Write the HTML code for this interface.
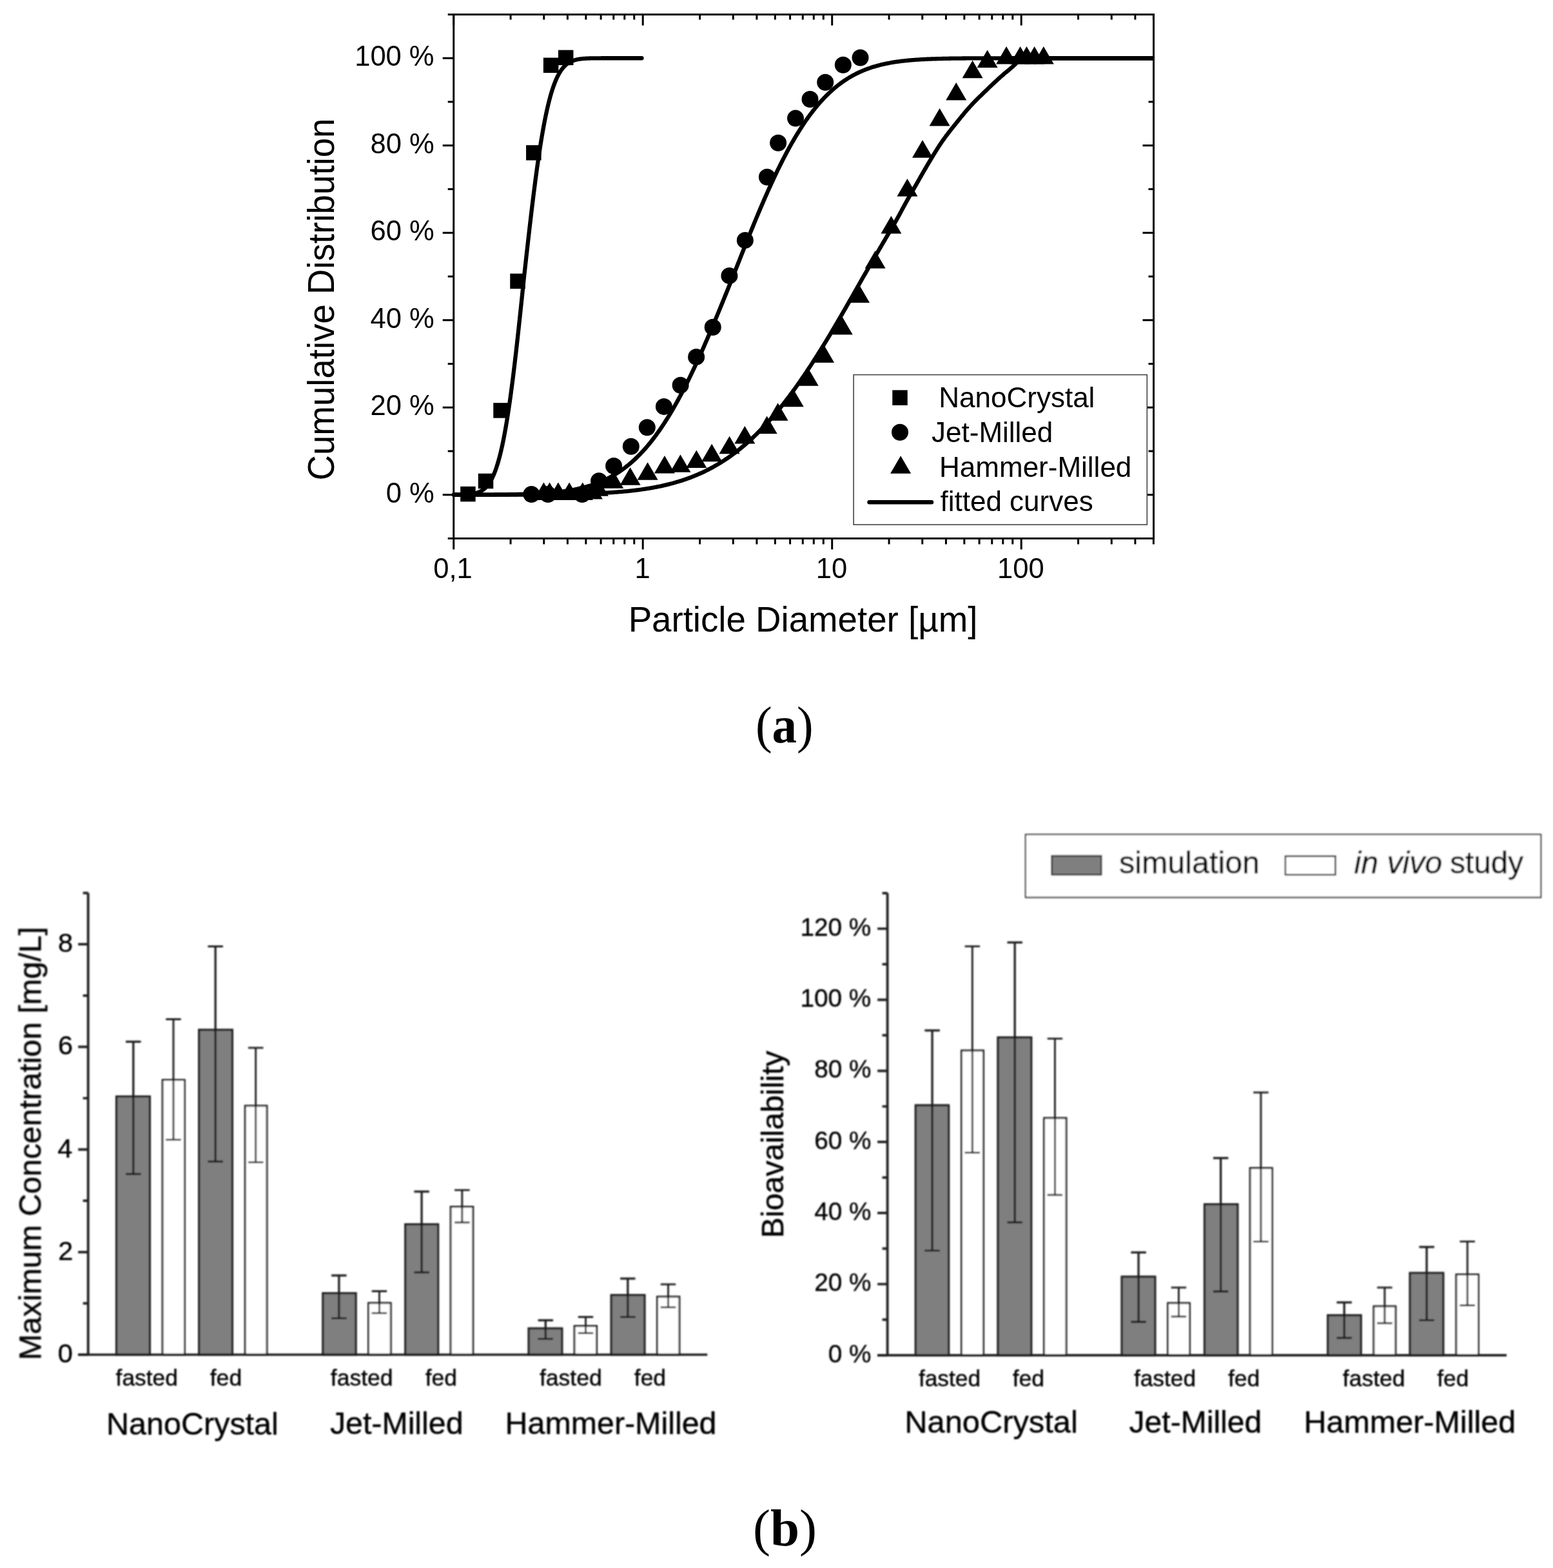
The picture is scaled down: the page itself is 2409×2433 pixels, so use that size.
<!DOCTYPE html>
<html><head><meta charset="utf-8"><title>Figure</title><style>html,body{margin:0;padding:0;background:#fff;}svg{display:block;}#pb text{stroke:#000;stroke-width:0.45px;}</style></head><body>
<svg width="2409" height="2433" viewBox="0 0 2409 2433"><rect width="2409" height="2433" fill="#fff"/><rect x="703.7" y="22.5" width="1085.8" height="813" fill="none" stroke="#000" stroke-width="3"/>
<path d="M694.7 835.5H703.7M1781.5 835.5H1789.5M686.7 767.75H703.7M1772.5 767.75H1789.5M694.7 700H703.7M1781.5 700H1789.5M686.7 632.25H703.7M1772.5 632.25H1789.5M694.7 564.5H703.7M1781.5 564.5H1789.5M686.7 496.75H703.7M1772.5 496.75H1789.5M694.7 429H703.7M1781.5 429H1789.5M686.7 361.25H703.7M1772.5 361.25H1789.5M694.7 293.5H703.7M1781.5 293.5H1789.5M686.7 225.75H703.7M1772.5 225.75H1789.5M694.7 158H703.7M1781.5 158H1789.5M686.7 90.25H703.7M1772.5 90.25H1789.5M694.7 22.5H703.7M1781.5 22.5H1789.5M703.7 835.5V852.5M703.7 22.5V39.5M792.05 835.5V844.5M792.05 22.5V30.5M843.74 835.5V844.5M843.74 22.5V30.5M880.4 835.5V844.5M880.4 22.5V30.5M908.85 835.5V844.5M908.85 22.5V30.5M932.09 835.5V844.5M932.09 22.5V30.5M951.74 835.5V844.5M951.74 22.5V30.5M968.76 835.5V844.5M968.76 22.5V30.5M983.77 835.5V844.5M983.77 22.5V30.5M997.2 835.5V852.5M997.2 22.5V39.5M1085.55 835.5V844.5M1085.55 22.5V30.5M1137.24 835.5V844.5M1137.24 22.5V30.5M1173.9 835.5V844.5M1173.9 22.5V30.5M1202.35 835.5V844.5M1202.35 22.5V30.5M1225.59 835.5V844.5M1225.59 22.5V30.5M1245.24 835.5V844.5M1245.24 22.5V30.5M1262.26 835.5V844.5M1262.26 22.5V30.5M1277.27 835.5V844.5M1277.27 22.5V30.5M1290.7 835.5V852.5M1290.7 22.5V39.5M1379.05 835.5V844.5M1379.05 22.5V30.5M1430.74 835.5V844.5M1430.74 22.5V30.5M1467.4 835.5V844.5M1467.4 22.5V30.5M1495.85 835.5V844.5M1495.85 22.5V30.5M1519.09 835.5V844.5M1519.09 22.5V30.5M1538.74 835.5V844.5M1538.74 22.5V30.5M1555.76 835.5V844.5M1555.76 22.5V30.5M1570.77 835.5V844.5M1570.77 22.5V30.5M1584.2 835.5V852.5M1584.2 22.5V39.5M1672.55 835.5V844.5M1672.55 22.5V30.5M1724.24 835.5V844.5M1724.24 22.5V30.5M1760.9 835.5V844.5M1760.9 22.5V30.5M1789.35 835.5V844.5M1789.35 22.5V30.5M1789.35 835.5V844.5M1789.35 22.5V30.5" stroke="#000" stroke-width="3" fill="none"/>
<text x="598.7" y="779.55" style="font-family:'Liberation Sans',Arial,sans-serif;font-size:43.5px" fill="#000">0 %</text>
<text x="574.45" y="644.05" style="font-family:'Liberation Sans',Arial,sans-serif;font-size:43.5px" fill="#000">20 %</text>
<text x="574.45" y="508.55" style="font-family:'Liberation Sans',Arial,sans-serif;font-size:43.5px" fill="#000">40 %</text>
<text x="574.45" y="373.05" style="font-family:'Liberation Sans',Arial,sans-serif;font-size:43.5px" fill="#000">60 %</text>
<text x="574.45" y="237.55" style="font-family:'Liberation Sans',Arial,sans-serif;font-size:43.5px" fill="#000">80 %</text>
<text x="550.2" y="102.05" style="font-family:'Liberation Sans',Arial,sans-serif;font-size:43.5px" fill="#000">100 %</text>
<text x="672.25" y="896.5" style="font-family:'Liberation Sans',Arial,sans-serif;font-size:43.5px" fill="#000">0,1</text>
<text x="984.58" y="896.5" style="font-family:'Liberation Sans',Arial,sans-serif;font-size:43.5px" fill="#000">1</text>
<text x="1265.7" y="896.5" style="font-family:'Liberation Sans',Arial,sans-serif;font-size:43.5px" fill="#000">10</text>
<text x="1547.08" y="896.5" style="font-family:'Liberation Sans',Arial,sans-serif;font-size:43.5px" fill="#000">100</text>
<text x="974.63" y="980" style="font-family:'Liberation Sans',Arial,sans-serif;font-size:55px" fill="#000" textLength="541.75" lengthAdjust="spacingAndGlyphs">Particle Diameter [µm]</text>
<text transform="translate(517.6 745.53) rotate(-90)" x="0" y="0" style="font-family:'Liberation Sans',Arial,sans-serif;font-size:58px" fill="#000" textLength="562.06" lengthAdjust="spacingAndGlyphs">Cumulative Distribution</text>
<path d="M703.7 767.72 L704.43 767.71 L705.16 767.71 L705.89 767.71 L706.63 767.7 L707.36 767.7 L708.09 767.69 L708.82 767.68 L709.55 767.68 L710.28 767.67 L711.01 767.66 L711.74 767.65 L712.48 767.64 L713.21 767.63 L713.94 767.61 L714.67 767.6 L715.4 767.58 L716.13 767.57 L716.86 767.55 L717.6 767.53 L718.33 767.51 L719.06 767.48 L719.79 767.45 L720.52 767.43 L721.25 767.39 L721.98 767.36 L722.71 767.32 L723.45 767.28 L724.18 767.24 L724.91 767.19 L725.64 767.14 L726.37 767.08 L727.1 767.02 L727.83 766.95 L728.57 766.88 L729.3 766.8 L730.03 766.72 L730.76 766.63 L731.49 766.53 L732.22 766.42 L732.95 766.31 L733.68 766.19 L734.42 766.05 L735.15 765.91 L735.88 765.76 L736.61 765.59 L737.34 765.42 L738.07 765.23 L738.8 765.02 L739.54 764.8 L740.27 764.57 L741 764.32 L741.73 764.05 L742.46 763.77 L743.19 763.46 L743.92 763.13 L744.65 762.79 L745.39 762.42 L746.12 762.02 L746.85 761.6 L747.58 761.16 L748.31 760.68 L749.04 760.18 L749.77 759.64 L750.51 759.07 L751.24 758.47 L751.97 757.83 L752.7 757.16 L753.43 756.44 L754.16 755.69 L754.89 754.89 L755.62 754.05 L756.36 753.16 L757.09 752.22 L757.82 751.24 L758.55 750.2 L759.28 749.1 L760.01 747.96 L760.74 746.75 L761.47 745.48 L762.21 744.15 L762.94 742.76 L763.67 741.29 L764.4 739.76 L765.13 738.16 L765.86 736.49 L766.59 734.74 L767.33 732.91 L768.06 731.01 L768.79 729.02 L769.52 726.95 L770.25 724.79 L770.98 722.54 L771.71 720.21 L772.44 717.78 L773.18 715.26 L773.91 712.65 L774.64 709.93 L775.37 707.12 L776.1 704.21 L776.83 701.2 L777.56 698.08 L778.3 694.86 L779.03 691.53 L779.76 688.09 L780.49 684.55 L781.22 680.9 L781.95 677.14 L782.68 673.26 L783.41 669.28 L784.15 665.18 L784.88 660.98 L785.61 656.66 L786.34 652.23 L787.07 647.69 L787.8 643.03 L788.53 638.27 L789.27 633.39 L790 628.41 L790.73 623.32 L791.46 618.12 L792.19 612.82 L792.92 607.41 L793.65 601.9 L794.38 596.29 L795.12 590.58 L795.85 584.78 L796.58 578.88 L797.31 572.89 L798.04 566.81 L798.77 560.65 L799.5 554.4 L800.24 548.08 L800.97 541.68 L801.7 535.21 L802.43 528.67 L803.16 522.06 L803.89 515.39 L804.62 508.67 L805.35 501.89 L806.09 495.07 L806.82 488.2 L807.55 481.29 L808.28 474.35 L809.01 467.37 L809.74 460.37 L810.47 453.35 L811.21 446.31 L811.94 439.26 L812.67 432.21 L813.4 425.4 L814.13 418.82 L814.86 412.24 L815.59 405.67 L816.32 399.11 L817.06 392.57 L817.79 386.05 L818.52 379.56 L819.25 373.1 L819.98 366.67 L820.71 360.27 L821.44 353.92 L822.18 347.61 L822.91 341.34 L823.64 335.13 L824.37 328.97 L825.1 322.87 L825.83 316.82 L826.56 310.84 L827.29 304.93 L828.03 299.08 L828.76 293.3 L829.49 287.6 L830.22 281.97 L830.95 276.42 L831.68 270.96 L832.41 265.57 L833.15 260.27 L833.88 255.05 L834.61 249.93 L835.34 244.89 L836.07 239.94 L836.8 235.08 L837.53 230.32 L838.26 225.65 L839 221.08 L839.73 216.6 L840.46 212.22 L841.19 207.93 L841.92 203.74 L842.65 199.65 L843.38 195.66 L844.12 191.76 L844.85 187.96 L845.58 184.26 L846.31 180.65 L847.04 177.14 L847.77 173.73 L848.5 170.41 L849.23 167.19 L849.97 164.06 L850.7 161.02 L851.43 158.07 L852.16 155.22 L852.89 152.45 L853.62 149.77 L854.35 147.18 L855.08 144.68 L855.82 142.25 L856.55 139.92 L857.28 137.66 L858.01 135.48 L858.74 133.38 L859.47 131.36 L860.2 129.41 L860.94 127.54 L861.67 125.74 L862.4 124 L863.13 122.34 L863.86 120.74 L864.59 119.21 L865.32 117.74 L866.05 116.33 L866.79 114.98 L867.52 113.68 L868.25 112.45 L868.98 111.27 L869.71 110.14 L870.44 109.06 L871.17 108.03 L871.91 107.05 L872.64 106.11 L873.37 105.22 L874.1 104.37 L874.83 103.56 L875.56 102.79 L876.29 102.06 L877.02 101.37 L877.76 100.71 L878.49 100.09 L879.22 99.5 L879.95 98.93 L880.68 98.4 L881.41 97.9 L882.14 97.42 L882.88 96.97 L883.61 96.55 L884.34 96.15 L885.07 95.77 L885.8 95.41 L886.53 95.07 L887.26 94.76 L887.99 94.46 L888.73 94.18 L889.46 93.91 L890.19 93.67 L890.92 93.43 L891.65 93.21 L892.38 93.01 L893.11 92.82 L893.85 92.64 L894.58 92.47 L895.31 92.31 L896.04 92.16 L896.77 92.02 L897.5 91.89 L898.23 91.77 L898.96 91.66 L899.7 91.56 L900.43 91.46 L901.16 91.37 L901.89 91.28 L902.62 91.2 L903.35 91.13 L904.08 91.06 L904.82 91 L905.55 90.94 L906.28 90.89 L907.01 90.83 L907.74 90.79 L908.47 90.74 L909.2 90.7 L909.93 90.67 L910.67 90.63 L911.4 90.6 L912.13 90.57 L912.86 90.55 L913.59 90.52 L914.32 90.5 L915.05 90.48 L915.79 90.46 L916.52 90.44 L917.25 90.42 L917.98 90.41 L918.71 90.39 L919.44 90.38 L920.17 90.37 L920.9 90.36 L921.64 90.35 L922.37 90.34 L923.1 90.33 L923.83 90.32 L924.56 90.32 L925.29 90.31 L926.02 90.31 L926.76 90.3 L927.49 90.3 L928.22 90.29 L928.95 90.29 L929.68 90.28 L930.41 90.28 L931.14 90.28 L931.87 90.28 L932.61 90.27 L933.34 90.27 L934.07 90.27 L934.8 90.27 L935.53 90.26 L936.26 90.26 L936.99 90.26 L937.73 90.26 L938.46 90.26 L939.19 90.26 L939.92 90.26 L940.65 90.26 L941.38 90.26 L942.11 90.26 L942.84 90.26 L943.58 90.25 L944.31 90.25 L945.04 90.25 L945.77 90.25 L946.5 90.25 L947.23 90.25 L947.96 90.25 L948.69 90.25 L949.43 90.25 L950.16 90.25 L950.89 90.25 L951.62 90.25 L952.35 90.25 L953.08 90.25 L953.81 90.25 L954.55 90.25 L955.28 90.25 L956.01 90.25 L956.74 90.25 L957.47 90.25 L958.2 90.25 L958.93 90.25 L959.66 90.25 L960.4 90.25 L961.13 90.25 L961.86 90.25 L962.59 90.25 L963.32 90.25 L964.05 90.25 L964.78 90.25 L965.52 90.25 L966.25 90.25 L966.98 90.25 L967.71 90.25 L968.44 90.25 L969.17 90.25 L969.9 90.25 L970.63 90.25 L971.37 90.25 L972.1 90.25 L972.83 90.25 L973.56 90.25 L974.29 90.25 L975.02 90.25 L975.75 90.25 L976.49 90.25 L977.22 90.25 L977.95 90.25 L978.68 90.25 L979.41 90.25 L980.14 90.25 L980.87 90.25 L981.6 90.25 L982.34 90.25 L983.07 90.25 L983.8 90.25 L984.53 90.25 L985.26 90.25 L985.99 90.25 L986.72 90.25 L987.46 90.25 L988.19 90.25 L988.92 90.25 L989.65 90.25 L990.38 90.25 L991.11 90.25 L991.84 90.25 L992.57 90.25 L993.31 90.25 L994.04 90.25 L994.77 90.25 L995.5 90.25" stroke="#000" stroke-width="6.3" fill="none" stroke-linecap="round" stroke-linejoin="round"/>
<path d="M703.7 767.73 L705.25 767.72 L706.81 767.72 L708.36 767.72 L709.91 767.72 L711.47 767.72 L713.02 767.72 L714.57 767.71 L716.13 767.71 L717.68 767.71 L719.23 767.71 L720.79 767.7 L722.34 767.7 L723.89 767.7 L725.45 767.7 L727 767.69 L728.55 767.69 L730.11 767.69 L731.66 767.68 L733.21 767.68 L734.77 767.67 L736.32 767.67 L737.87 767.67 L739.43 767.66 L740.98 767.66 L742.53 767.65 L744.09 767.64 L745.64 767.64 L747.19 767.63 L748.75 767.63 L750.3 767.62 L751.85 767.61 L753.41 767.6 L754.96 767.6 L756.51 767.59 L758.07 767.58 L759.62 767.57 L761.17 767.56 L762.73 767.55 L764.28 767.54 L765.83 767.53 L767.39 767.51 L768.94 767.5 L770.49 767.49 L772.05 767.47 L773.6 767.46 L775.15 767.44 L776.71 767.43 L778.26 767.41 L779.81 767.39 L781.37 767.38 L782.92 767.36 L784.47 767.34 L786.03 767.32 L787.58 767.29 L789.13 767.27 L790.69 767.25 L792.24 767.22 L793.79 767.19 L795.35 767.17 L796.9 767.14 L798.46 767.11 L800.01 767.08 L801.56 767.04 L803.12 767.01 L804.67 766.97 L806.22 766.93 L807.78 766.89 L809.33 766.85 L810.88 766.81 L812.44 766.77 L813.99 766.72 L815.54 766.67 L817.1 766.62 L818.65 766.57 L820.2 766.51 L821.76 766.45 L823.31 766.39 L824.86 766.33 L826.42 766.27 L827.97 766.2 L829.52 766.13 L831.08 766.05 L832.63 765.98 L834.18 765.9 L835.74 765.82 L837.29 765.73 L838.84 765.64 L840.4 765.55 L841.95 765.45 L843.5 765.35 L845.06 765.24 L846.61 765.14 L848.16 765.02 L849.72 764.91 L851.27 764.78 L852.82 764.66 L854.38 764.53 L855.93 764.39 L857.48 764.25 L859.04 764.1 L860.59 763.95 L862.14 763.79 L863.7 763.63 L865.25 763.46 L866.8 763.29 L868.36 763.1 L869.91 762.92 L871.46 762.72 L873.02 762.52 L874.57 762.31 L876.12 762.09 L877.68 761.87 L879.23 761.64 L880.78 761.4 L882.34 761.15 L883.89 760.9 L885.44 760.63 L887 760.36 L888.55 760.08 L890.1 759.79 L891.66 759.49 L893.21 759.18 L894.76 758.85 L896.32 758.52 L897.87 758.18 L899.42 757.83 L900.98 757.47 L902.53 757.09 L904.08 756.7 L905.64 756.3 L907.19 755.89 L908.74 755.47 L910.3 755.03 L911.85 754.58 L913.4 754.12 L914.96 753.64 L916.51 753.15 L918.06 752.65 L919.62 752.13 L921.17 751.59 L922.72 751.04 L924.28 750.48 L925.83 749.9 L927.38 749.3 L928.94 748.68 L930.49 748.05 L932.04 747.4 L933.6 746.74 L935.15 746.05 L936.7 745.35 L938.26 744.63 L939.81 743.89 L941.36 743.13 L942.92 742.35 L944.47 741.55 L946.02 740.73 L947.58 739.89 L949.13 739.03 L950.68 738.15 L952.24 737.24 L953.79 736.31 L955.34 735.37 L956.9 734.39 L958.45 733.4 L960 732.38 L961.56 731.34 L963.11 730.27 L964.66 729.18 L966.22 728.06 L967.77 726.92 L969.32 725.75 L970.88 724.56 L972.43 723.34 L973.98 722.1 L975.54 720.82 L977.09 719.52 L978.65 718.2 L980.2 716.84 L981.75 715.46 L983.31 714.05 L984.86 712.61 L986.41 711.14 L987.97 709.64 L989.52 708.12 L991.07 706.56 L992.63 704.97 L994.18 703.35 L995.73 701.71 L997.29 700.03 L998.84 698.32 L1000.39 696.58 L1001.95 694.81 L1003.5 693 L1005.05 691.17 L1006.61 689.3 L1008.16 687.4 L1009.71 685.47 L1011.27 683.5 L1012.82 681.51 L1014.37 679.48 L1015.93 677.42 L1017.48 675.32 L1019.03 673.19 L1020.59 671.03 L1022.14 668.84 L1023.69 666.61 L1025.25 664.35 L1026.8 662.06 L1028.35 659.73 L1029.91 657.37 L1031.46 654.98 L1033.01 652.55 L1034.57 650.09 L1036.12 647.6 L1037.67 645.07 L1039.23 642.51 L1040.78 639.92 L1042.33 637.29 L1043.89 634.63 L1045.44 631.94 L1046.99 629.22 L1048.55 626.46 L1050.1 623.68 L1051.65 620.86 L1053.21 618.01 L1054.76 615.13 L1056.31 612.21 L1057.87 609.27 L1059.42 606.29 L1060.97 603.29 L1062.53 600.25 L1064.08 597.19 L1065.63 594.09 L1067.19 590.97 L1068.74 587.82 L1070.29 584.64 L1071.85 581.43 L1073.4 578.2 L1074.95 574.93 L1076.51 571.65 L1078.06 568.33 L1079.61 564.99 L1081.17 561.62 L1082.72 558.23 L1084.27 554.82 L1085.83 551.38 L1087.38 547.92 L1088.93 544.44 L1090.49 540.93 L1092.04 537.4 L1093.59 533.85 L1095.15 530.29 L1096.7 526.7 L1098.25 523.09 L1099.81 519.47 L1101.36 515.82 L1102.91 512.16 L1104.47 508.49 L1106.02 504.8 L1107.57 501.09 L1109.13 497.37 L1110.68 493.63 L1112.23 489.89 L1113.79 486.13 L1115.34 482.36 L1116.89 478.57 L1118.45 474.78 L1120 470.98 L1121.55 467.17 L1123.11 463.36 L1124.66 459.53 L1126.21 455.7 L1127.77 451.87 L1129.32 448.03 L1130.87 444.18 L1132.43 440.33 L1133.98 436.48 L1135.53 432.63 L1137.09 428.78 L1138.64 424.81 L1140.19 420.86 L1141.75 416.9 L1143.3 412.94 L1144.85 408.99 L1146.41 405.04 L1147.96 401.1 L1149.51 397.16 L1151.07 393.23 L1152.62 389.31 L1154.17 385.4 L1155.73 381.49 L1157.28 377.6 L1158.84 373.72 L1160.39 369.84 L1161.94 365.98 L1163.5 362.14 L1165.05 358.31 L1166.6 354.49 L1168.16 350.69 L1169.71 346.9 L1171.26 343.14 L1172.82 339.38 L1174.37 335.65 L1175.92 331.94 L1177.48 328.25 L1179.03 324.58 L1180.58 320.93 L1182.14 317.3 L1183.69 313.69 L1185.24 310.11 L1186.8 306.55 L1188.35 303.01 L1189.9 299.5 L1191.46 296.02 L1193.01 292.56 L1194.56 289.13 L1196.12 285.73 L1197.67 282.35 L1199.22 279 L1200.78 275.68 L1202.33 272.39 L1203.88 269.13 L1205.44 265.9 L1206.99 262.7 L1208.54 259.53 L1210.1 256.39 L1211.65 253.28 L1213.2 250.21 L1214.76 247.17 L1216.31 244.16 L1217.86 241.18 L1219.42 238.24 L1220.97 235.32 L1222.52 232.45 L1224.08 229.6 L1225.63 226.79 L1227.18 224.02 L1228.74 221.28 L1230.29 218.57 L1231.84 215.9 L1233.4 213.26 L1234.95 210.66 L1236.5 208.09 L1238.06 205.56 L1239.61 203.07 L1241.16 200.6 L1242.72 198.18 L1244.27 195.79 L1245.82 193.43 L1247.38 191.11 L1248.93 188.82 L1250.48 186.57 L1252.04 184.36 L1253.59 182.18 L1255.14 180.03 L1256.7 177.92 L1258.25 175.84 L1259.8 173.8 L1261.36 171.8 L1262.91 169.82 L1264.46 167.88 L1266.02 165.98 L1267.57 164.11 L1269.12 162.27 L1270.68 160.46 L1272.23 158.69 L1273.78 156.95 L1275.34 155.25 L1276.89 153.57 L1278.44 151.93 L1280 150.32 L1281.55 148.74 L1283.1 147.19 L1284.66 145.68 L1286.21 144.19 L1287.76 142.74 L1289.32 141.31 L1290.87 139.91 L1292.42 138.55 L1293.98 137.21 L1295.53 135.9 L1297.08 134.62 L1298.64 133.37 L1300.19 132.14 L1301.74 130.95 L1303.3 129.78 L1304.85 128.63 L1306.4 127.52 L1307.96 126.42 L1309.51 125.36 L1311.06 124.32 L1312.62 123.3 L1314.17 122.31 L1315.72 121.34 L1317.28 120.4 L1318.83 119.48 L1320.38 118.58 L1321.94 117.7 L1323.49 116.85 L1325.04 116.02 L1326.6 115.21 L1328.15 114.42 L1329.7 113.65 L1331.26 112.9 L1332.81 112.17 L1334.36 111.46 L1335.92 110.77 L1337.47 110.1 L1339.03 109.44 L1340.58 108.81 L1342.13 108.19 L1343.69 107.59 L1345.24 107.01 L1346.79 106.44 L1348.35 105.89 L1349.9 105.36 L1351.45 104.84 L1353.01 104.33 L1354.56 103.84 L1356.11 103.37 L1357.67 102.91 L1359.22 102.46 L1360.77 102.03 L1362.33 101.61 L1363.88 101.2 L1365.43 100.81 L1366.99 100.42 L1368.54 100.05 L1370.09 99.69 L1371.65 99.35 L1373.2 99.01 L1374.75 98.68 L1376.31 98.37 L1377.86 98.07 L1379.41 97.77 L1380.97 97.49 L1382.52 97.21 L1384.07 96.94 L1385.63 96.69 L1387.18 96.44 L1388.73 96.2 L1390.29 95.97 L1391.84 95.74 L1393.39 95.52 L1394.95 95.32 L1396.5 95.11 L1398.05 94.92 L1399.61 94.73 L1401.16 94.55 L1402.71 94.38 L1404.27 94.21 L1405.82 94.05 L1407.37 93.89 L1408.93 93.74 L1410.48 93.6 L1412.03 93.46 L1413.59 93.32 L1415.14 93.19 L1416.69 93.07 L1418.25 92.95 L1419.8 92.84 L1421.35 92.72 L1422.91 92.62 L1424.46 92.52 L1426.01 92.42 L1427.57 92.32 L1429.12 92.23 L1430.67 92.15 L1432.23 92.06 L1433.78 91.98 L1435.33 91.91 L1436.89 91.83 L1438.44 91.76 L1439.99 91.69 L1441.55 91.63 L1443.1 91.56 L1444.65 91.5 L1446.21 91.45 L1447.76 91.39 L1449.31 91.34 L1450.87 91.29 L1452.42 91.24 L1453.97 91.19 L1455.53 91.15 L1457.08 91.11 L1458.63 91.07 L1460.19 91.03 L1461.74 90.99 L1463.29 90.96 L1464.85 90.92 L1466.4 90.89 L1467.95 90.86 L1469.51 90.83 L1471.06 90.8 L1472.61 90.77 L1474.17 90.75 L1475.72 90.72 L1477.27 90.7 L1478.83 90.68 L1480.38 90.66 L1481.93 90.64 L1483.49 90.62 L1485.04 90.6 L1486.59 90.58 L1488.15 90.56 L1489.7 90.55 L1491.25 90.53 L1492.81 90.52 L1494.36 90.5 L1495.91 90.49 L1497.47 90.48 L1499.02 90.47 L1500.57 90.45 L1502.13 90.44 L1503.68 90.43 L1505.23 90.42 L1506.79 90.41 L1508.34 90.41 L1509.89 90.4 L1511.45 90.39 L1513 90.38 L1514.55 90.37 L1516.11 90.37 L1517.66 90.36 L1519.22 90.36 L1520.77 90.35 L1522.32 90.34 L1523.88 90.34 L1525.43 90.33 L1526.98 90.33 L1528.54 90.32 L1530.09 90.32 L1531.64 90.32 L1533.2 90.31 L1534.75 90.31 L1536.3 90.31 L1537.86 90.3 L1539.41 90.3 L1540.96 90.3 L1542.52 90.29 L1544.07 90.29 L1545.62 90.29 L1547.18 90.29 L1548.73 90.28 L1550.28 90.28 L1551.84 90.28 L1553.39 90.28 L1554.94 90.28 L1556.5 90.28 L1558.05 90.27 L1559.6 90.27 L1561.16 90.27 L1562.71 90.27 L1564.26 90.27 L1565.82 90.27 L1567.37 90.27 L1568.92 90.27 L1570.48 90.26 L1572.03 90.26 L1573.58 90.26 L1575.14 90.26 L1576.69 90.26 L1578.24 90.26 L1579.8 90.26 L1581.35 90.26 L1582.9 90.26 L1584.46 90.26 L1586.01 90.26 L1587.56 90.26 L1589.12 90.26 L1590.67 90.26 L1592.22 90.26 L1593.78 90.26 L1595.33 90.26 L1596.88 90.25 L1598.44 90.25 L1599.99 90.25 L1601.54 90.25 L1603.1 90.25 L1604.65 90.25 L1606.2 90.25 L1607.76 90.25 L1609.31 90.25 L1610.86 90.25 L1612.42 90.25 L1613.97 90.25 L1615.52 90.25 L1617.08 90.25 L1618.63 90.25 L1620.18 90.25 L1621.74 90.25 L1623.29 90.25 L1624.84 90.25 L1626.4 90.25 L1627.95 90.25 L1629.5 90.25 L1631.06 90.25 L1632.61 90.25 L1634.16 90.25 L1635.72 90.25 L1637.27 90.25 L1638.82 90.25 L1640.38 90.25 L1641.93 90.25 L1643.48 90.25 L1645.04 90.25 L1646.59 90.25 L1648.14 90.25 L1649.7 90.25 L1651.25 90.25 L1652.8 90.25 L1654.36 90.25 L1655.91 90.25 L1657.46 90.25 L1659.02 90.25 L1660.57 90.25 L1662.12 90.25 L1663.68 90.25 L1665.23 90.25 L1666.78 90.25 L1668.34 90.25 L1669.89 90.25 L1671.44 90.25 L1673 90.25 L1674.55 90.25 L1676.1 90.25 L1677.66 90.25 L1679.21 90.25 L1680.76 90.25 L1682.32 90.25 L1683.87 90.25 L1685.42 90.25 L1686.98 90.25 L1688.53 90.25 L1690.08 90.25 L1691.64 90.25 L1693.19 90.25 L1694.74 90.25 L1696.3 90.25 L1697.85 90.25 L1699.41 90.25 L1700.96 90.25 L1702.51 90.25 L1704.07 90.25 L1705.62 90.25 L1707.17 90.25 L1708.73 90.25 L1710.28 90.25 L1711.83 90.25 L1713.39 90.25 L1714.94 90.25 L1716.49 90.25 L1718.05 90.25 L1719.6 90.25 L1721.15 90.25 L1722.71 90.25 L1724.26 90.25 L1725.81 90.25 L1727.37 90.25 L1728.92 90.25 L1730.47 90.25 L1732.03 90.25 L1733.58 90.25 L1735.13 90.25 L1736.69 90.25 L1738.24 90.25 L1739.79 90.25 L1741.35 90.25 L1742.9 90.25 L1744.45 90.25 L1746.01 90.25 L1747.56 90.25 L1749.11 90.25 L1750.67 90.25 L1752.22 90.25 L1753.77 90.25 L1755.33 90.25 L1756.88 90.25 L1758.43 90.25 L1759.99 90.25 L1761.54 90.25 L1763.09 90.25 L1764.65 90.25 L1766.2 90.25 L1767.75 90.25 L1769.31 90.25 L1770.86 90.25 L1772.41 90.25 L1773.97 90.25 L1775.52 90.25 L1777.07 90.25 L1778.63 90.25 L1780.18 90.25 L1781.73 90.25 L1783.29 90.25 L1784.84 90.25 L1786.39 90.25 L1787.95 90.25 L1789.5 90.25" stroke="#000" stroke-width="6.3" fill="none" stroke-linecap="butt" stroke-linejoin="round"/>
<path d="M703.7 767.74 L705.83 767.74 L707.95 767.74 L710.08 767.74 L712.21 767.74 L714.33 767.74 L716.46 767.73 L718.58 767.73 L720.71 767.73 L722.84 767.73 L724.96 767.73 L727.09 767.73 L729.22 767.73 L731.34 767.73 L733.47 767.72 L735.6 767.72 L737.72 767.72 L739.85 767.72 L741.98 767.72 L744.1 767.72 L746.23 767.71 L748.35 767.71 L750.48 767.71 L752.61 767.71 L754.73 767.71 L756.86 767.7 L758.99 767.7 L761.11 767.7 L763.24 767.69 L765.37 767.69 L767.49 767.69 L769.62 767.68 L771.75 767.68 L773.87 767.68 L776 767.67 L778.12 767.67 L780.25 767.66 L782.38 767.66 L784.5 767.65 L786.63 767.65 L788.76 767.64 L790.88 767.64 L793.01 767.63 L795.14 767.62 L797.26 767.62 L799.39 767.61 L801.52 767.6 L803.64 767.59 L805.77 767.59 L807.89 767.58 L810.02 767.57 L812.15 767.56 L814.27 767.55 L816.4 767.54 L818.53 767.53 L820.65 767.51 L822.78 767.5 L824.91 767.49 L827.03 767.48 L829.16 767.46 L831.29 767.45 L833.41 767.43 L835.54 767.42 L837.66 767.4 L839.79 767.38 L841.92 767.36 L844.04 767.34 L846.17 767.32 L848.3 767.3 L850.42 767.28 L852.55 767.26 L854.68 767.23 L856.8 767.21 L858.93 767.18 L861.06 767.15 L863.18 767.12 L865.31 767.09 L867.43 767.06 L869.56 767.03 L871.69 766.99 L873.81 766.96 L875.94 766.92 L878.07 766.88 L880.19 766.84 L882.32 766.8 L884.45 766.75 L886.57 766.71 L888.7 766.66 L890.83 766.61 L892.95 766.56 L895.08 766.5 L897.2 766.45 L899.33 766.39 L901.46 766.33 L903.58 766.26 L905.71 766.2 L907.84 766.13 L909.96 766.06 L912.09 765.98 L914.22 765.91 L916.34 765.83 L918.47 765.74 L920.59 765.66 L922.72 765.57 L924.85 765.47 L926.97 765.37 L929.1 765.27 L931.23 765.17 L933.35 765.06 L935.48 764.95 L937.61 764.83 L939.73 764.71 L941.86 764.58 L943.99 764.45 L946.11 764.32 L948.24 764.18 L950.36 764.03 L952.49 763.88 L954.62 763.72 L956.74 763.56 L958.87 763.4 L961 763.22 L963.12 763.04 L965.25 762.86 L967.38 762.67 L969.5 762.47 L971.63 762.26 L973.76 762.05 L975.88 761.83 L978.01 761.6 L980.13 761.37 L982.26 761.13 L984.39 760.88 L986.51 760.62 L988.64 760.35 L990.77 760.08 L992.89 759.79 L995.02 759.5 L997.15 759.2 L999.27 758.89 L1001.4 758.56 L1003.53 758.23 L1005.65 757.89 L1007.78 757.54 L1009.9 757.17 L1012.03 756.8 L1014.16 756.41 L1016.28 756.02 L1018.41 755.61 L1020.54 755.18 L1022.66 754.75 L1024.79 754.3 L1026.92 753.84 L1029.04 753.37 L1031.17 752.89 L1033.3 752.39 L1035.42 751.87 L1037.55 751.34 L1039.67 750.8 L1041.8 750.24 L1043.93 749.67 L1046.05 749.08 L1048.18 748.47 L1050.31 747.85 L1052.43 747.21 L1054.56 746.56 L1056.69 745.89 L1058.81 745.2 L1060.94 744.49 L1063.07 743.77 L1065.19 743.02 L1067.32 742.26 L1069.44 741.48 L1071.57 740.68 L1073.7 739.86 L1075.82 739.02 L1077.95 738.16 L1080.08 737.27 L1082.2 736.37 L1084.33 735.45 L1086.46 734.5 L1088.58 733.53 L1090.71 732.54 L1092.84 731.53 L1094.96 730.49 L1097.09 729.44 L1099.21 728.35 L1101.34 727.25 L1103.47 726.12 L1105.59 724.96 L1107.72 723.78 L1109.85 722.58 L1111.97 721.35 L1114.1 720.09 L1116.23 718.81 L1118.35 717.5 L1120.48 716.16 L1122.61 714.8 L1124.73 713.41 L1126.86 712 L1128.98 710.55 L1131.11 709.08 L1133.24 707.58 L1135.36 706.05 L1137.49 704.5 L1139.62 702.91 L1141.74 701.3 L1143.87 699.65 L1146 697.98 L1148.12 696.28 L1150.25 694.54 L1152.37 692.78 L1154.5 690.99 L1156.63 689.16 L1158.75 687.31 L1160.88 685.42 L1163.01 683.51 L1165.13 681.56 L1167.26 679.58 L1169.39 677.57 L1171.51 675.53 L1173.64 673.46 L1175.77 671.36 L1177.89 669.22 L1180.02 667.06 L1182.14 664.86 L1184.27 662.63 L1186.4 660.37 L1188.52 658.08 L1190.65 655.75 L1192.78 653.4 L1194.9 651.01 L1197.03 648.59 L1199.16 646.14 L1201.28 643.66 L1203.41 641.14 L1205.54 638.6 L1207.66 636.02 L1209.79 633.42 L1211.91 630.78 L1214.04 628.11 L1216.17 625.41 L1218.29 622.68 L1220.42 619.92 L1222.55 617.13 L1224.67 614.31 L1226.8 611.46 L1228.93 608.58 L1231.05 605.68 L1233.18 602.74 L1235.31 599.78 L1237.43 596.78 L1239.56 593.76 L1241.68 590.71 L1243.81 587.64 L1245.94 584.54 L1248.06 581.41 L1250.19 578.25 L1252.32 575.07 L1254.44 571.86 L1256.57 568.63 L1258.7 565.38 L1260.82 562.1 L1262.95 558.8 L1265.08 555.47 L1267.2 552.12 L1269.33 548.75 L1271.45 545.36 L1273.58 541.95 L1275.71 538.51 L1277.83 535.06 L1279.96 531.59 L1282.09 528.09 L1284.21 524.58 L1286.34 521.06 L1288.47 517.51 L1290.59 513.95 L1292.72 510.37 L1294.85 506.78 L1296.97 503.17 L1299.1 499.55 L1301.22 495.92 L1303.35 492.27 L1305.48 488.61 L1307.6 484.94 L1309.73 481.26 L1311.86 477.57 L1313.98 473.87 L1316.11 470.16 L1318.24 466.44 L1320.36 462.72 L1322.49 458.99 L1324.62 455.25 L1326.74 451.51 L1328.87 447.77 L1330.99 444.02 L1333.12 440.27 L1335.25 436.51 L1337.37 432.76 L1339.5 429 L1341.01 426.41 L1342.51 423.81 L1344.02 421.22 L1345.52 418.63 L1347.03 416.03 L1348.53 413.44 L1350.04 410.85 L1351.54 408.26 L1353.05 405.66 L1354.55 403.07 L1356.06 400.47 L1357.56 397.88 L1359.07 395.29 L1360.57 392.7 L1362.08 390.1 L1363.58 387.51 L1365.09 384.93 L1366.59 382.34 L1368.1 379.75 L1369.6 377.17 L1371.11 374.6 L1372.61 372.04 L1374.12 369.49 L1375.62 366.95 L1377.13 364.42 L1378.63 361.89 L1380.14 359.35 L1381.64 356.81 L1383.15 354.26 L1384.65 351.69 L1386.16 349.11 L1387.66 346.51 L1389.17 343.88 L1390.67 341.23 L1392.18 338.55 L1393.68 335.81 L1395.19 333.02 L1396.69 330.19 L1398.2 327.36 L1399.7 324.52 L1401.21 321.71 L1402.71 318.94 L1404.22 316.21 L1405.72 313.51 L1407.23 310.83 L1408.73 308.17 L1410.24 305.53 L1411.74 302.89 L1413.25 300.27 L1414.75 297.65 L1416.26 295.03 L1417.76 292.41 L1419.27 289.78 L1420.77 287.15 L1422.28 284.51 L1423.78 281.87 L1425.29 279.22 L1426.79 276.57 L1428.3 273.93 L1429.8 271.29 L1431.31 268.65 L1432.81 266.03 L1434.32 263.42 L1435.82 260.82 L1437.33 258.24 L1438.83 255.68 L1440.34 253.14 L1441.84 250.62 L1443.35 248.13 L1444.85 245.64 L1446.36 243.16 L1447.86 240.68 L1449.37 238.22 L1450.87 235.77 L1452.38 233.35 L1453.88 230.95 L1455.39 228.58 L1456.89 226.26 L1458.4 223.97 L1459.9 221.73 L1461.41 219.53 L1462.91 217.39 L1464.42 215.29 L1465.92 213.23 L1467.43 211.19 L1468.93 209.19 L1470.44 207.22 L1471.94 205.27 L1473.45 203.34 L1474.95 201.42 L1476.46 199.52 L1477.96 197.63 L1479.47 195.74 L1480.97 193.86 L1482.48 191.98 L1483.98 190.1 L1485.49 188.22 L1486.99 186.35 L1488.5 184.49 L1490 182.63 L1491.51 180.79 L1493.01 178.96 L1494.52 177.14 L1496.02 175.34 L1497.53 173.56 L1499.03 171.8 L1500.54 170.06 L1502.04 168.34 L1503.55 166.65 L1505.05 164.99 L1506.56 163.36 L1508.06 161.75 L1509.57 160.17 L1511.07 158.61 L1512.58 157.07 L1514.08 155.55 L1515.59 154.04 L1517.09 152.55 L1518.6 151.07 L1520.1 149.6 L1521.61 148.14 L1523.11 146.68 L1524.62 145.23 L1526.12 143.78 L1527.63 142.33 L1529.13 140.87 L1530.64 139.42 L1532.14 137.97 L1533.65 136.53 L1535.15 135.09 L1536.66 133.66 L1538.16 132.23 L1539.67 130.81 L1541.17 129.39 L1542.68 127.99 L1544.18 126.59 L1545.69 125.19 L1547.19 123.81 L1548.7 122.43 L1550.2 121.07 L1551.71 119.71 L1553.21 118.37 L1554.72 117.05 L1556.22 115.75 L1557.73 114.47 L1559.23 113.21 L1560.74 111.96 L1562.24 110.71 L1563.75 109.46 L1565.25 108.21 L1566.76 106.95 L1568.26 105.67 L1569.77 104.37 L1571.27 103.05 L1572.78 101.7 L1574.28 100.31 L1575.79 98.75 L1577.29 96.97 L1578.8 95.21 L1580.3 93.7 L1581.81 92.68 L1583.31 92.09 L1584.82 91.56 L1586.32 91.12 L1587.83 90.8 L1589.33 90.62 L1590.84 90.59 L1592.34 90.58 L1593.85 90.57 L1595.35 90.56 L1596.86 90.55 L1598.36 90.55 L1599.87 90.54 L1601.37 90.53 L1602.88 90.53 L1604.38 90.52 L1605.89 90.52 L1607.39 90.51 L1608.9 90.51 L1610.4 90.51 L1611.91 90.5 L1613.41 90.5 L1614.92 90.5 L1616.42 90.5 L1617.93 90.5 L1619.43 90.5 L1620.94 90.5 L1622.44 90.5 L1623.95 90.5 L1625.45 90.5 L1626.96 90.5 L1628.46 90.5 L1629.97 90.5 L1631.47 90.5 L1632.98 90.5 L1634.48 90.5 L1635.99 90.5 L1637.49 90.5 L1639 90.5 L1640.5 90.5 L1642.01 90.5 L1643.51 90.5 L1645.02 90.5 L1646.52 90.5 L1648.03 90.5 L1649.53 90.5 L1651.04 90.5 L1652.54 90.5 L1654.05 90.5 L1655.55 90.5 L1657.06 90.5 L1658.56 90.5 L1660.07 90.5 L1661.57 90.5 L1663.08 90.5 L1664.58 90.5 L1666.09 90.5 L1667.59 90.5 L1669.1 90.5 L1670.6 90.5 L1672.11 90.5 L1673.61 90.5 L1675.12 90.5 L1676.62 90.5 L1678.13 90.5 L1679.63 90.5 L1681.14 90.5 L1682.64 90.5 L1684.15 90.5 L1685.65 90.5 L1687.16 90.5 L1688.66 90.5 L1690.17 90.5 L1691.67 90.5 L1693.18 90.5 L1694.68 90.5 L1696.19 90.5 L1697.69 90.5 L1699.2 90.5 L1700.7 90.5 L1702.21 90.5 L1703.71 90.5 L1705.22 90.5 L1706.72 90.5 L1708.23 90.5 L1709.73 90.5 L1711.24 90.5 L1712.74 90.5 L1714.25 90.5 L1715.75 90.5 L1717.26 90.5 L1718.76 90.5 L1720.27 90.5 L1721.77 90.5 L1723.28 90.5 L1724.78 90.5 L1726.29 90.5 L1727.79 90.5 L1729.3 90.5 L1730.8 90.5 L1732.31 90.5 L1733.81 90.5 L1735.32 90.5 L1736.82 90.5 L1738.33 90.5 L1739.83 90.5 L1741.34 90.5 L1742.84 90.5 L1744.35 90.5 L1745.85 90.5 L1747.36 90.5 L1748.86 90.5 L1750.37 90.5 L1751.87 90.5 L1753.38 90.5 L1754.88 90.5 L1756.39 90.5 L1757.89 90.5 L1759.4 90.5 L1760.9 90.5 L1762.41 90.5 L1763.91 90.5 L1765.42 90.5 L1766.92 90.5 L1768.43 90.5 L1769.93 90.5 L1771.44 90.5 L1772.94 90.5 L1774.45 90.5 L1775.95 90.5 L1777.46 90.5 L1778.96 90.5 L1780.47 90.5 L1781.97 90.5 L1783.48 90.5 L1784.98 90.5 L1786.49 90.5 L1787.99 90.5 L1789.5 90.5" stroke="#000" stroke-width="6.3" fill="none" stroke-linecap="butt" stroke-linejoin="round"/>
<g fill="#000"><path d="M843.4 748.47L859.4 775.97L827.4 775.97Z"/><path d="M852.5 748.47L868.5 775.97L836.5 775.97Z"/><path d="M865.9 748.47L881.9 775.97L849.9 775.97Z"/><path d="M883.1 748.47L899.1 775.97L867.1 775.97Z"/><path d="M903.8 748.47L919.8 775.97L887.8 775.97Z"/><path d="M918.8 747.07L934.8 774.57L902.8 774.57Z"/><path d="M927.9 742.37L943.9 769.87L911.9 769.87Z"/><path d="M951.2 730.37L967.2 757.87L935.2 757.87Z"/><path d="M977.6 725.27L993.6 752.77L961.6 752.77Z"/><path d="M1004.6 717.17L1020.6 744.67L988.6 744.67Z"/><path d="M1030.9 706.97L1046.9 734.47L1014.9 734.47Z"/><path d="M1055.4 705.17L1071.4 732.67L1039.4 732.67Z"/><path d="M1080.3 698.57L1096.3 726.07L1064.3 726.07Z"/><path d="M1104.1 688.77L1120.1 716.27L1088.1 716.27Z"/><path d="M1131.5 676.67L1147.5 704.17L1115.5 704.17Z"/><path d="M1155.3 660.97L1171.3 688.47L1139.3 688.47Z"/><path d="M1189.6 645.47L1205.6 672.97L1173.6 672.97Z"/><path d="M1206.6 625.37L1222.6 652.87L1190.6 652.87Z"/><path d="M1230.7 603.87L1246.7 631.37L1214.7 631.37Z"/><path d="M1253.7 571.37L1269.7 598.87L1237.7 598.87Z"/><path d="M1278.1 535.37L1294.1 562.87L1262.1 562.87Z"/><path d="M1306.7 491.87L1322.7 519.37L1290.7 519.37Z"/><path d="M1333 442.37L1349 469.87L1317 469.87Z"/><path d="M1357.6 389.07L1373.6 416.57L1341.6 416.57Z"/><path d="M1382.4 335.07L1398.4 362.57L1366.4 362.57Z"/><path d="M1407.4 277.37L1423.4 304.87L1391.4 304.87Z"/><path d="M1431 217.37L1447 244.87L1415 244.87Z"/><path d="M1457.6 168.07L1473.6 195.57L1441.6 195.57Z"/><path d="M1483.2 128.07L1499.2 155.57L1467.2 155.57Z"/><path d="M1508.6 93.87L1524.6 121.37L1492.6 121.37Z"/><path d="M1531.6 77.47L1547.6 104.97L1515.6 104.97Z"/><path d="M1561.1 71.97L1577.1 99.47L1545.1 99.47Z"/><path d="M1582.6 71.97L1598.6 99.47L1566.6 99.47Z"/><path d="M1592.5 71.97L1608.5 99.47L1576.5 99.47Z"/><path d="M1604.6 71.97L1620.6 99.47L1588.6 99.47Z"/><path d="M1618.8 71.97L1634.8 99.47L1602.8 99.47Z"/><circle cx="824.4" cy="767" r="13"/><circle cx="850" cy="767" r="13"/><circle cx="903" cy="767" r="13"/><circle cx="929.1" cy="746.3" r="13"/><circle cx="952.1" cy="723" r="13"/><circle cx="978.8" cy="692.7" r="13"/><circle cx="1003.8" cy="663.2" r="13"/><circle cx="1029.9" cy="630.9" r="13"/><circle cx="1055.6" cy="597.7" r="13"/><circle cx="1080.1" cy="553.9" r="13"/><circle cx="1105.7" cy="507.7" r="13"/><circle cx="1131.4" cy="427.9" r="13"/><circle cx="1155.8" cy="372.9" r="13"/><circle cx="1189.9" cy="274.8" r="13"/><circle cx="1207.1" cy="221.7" r="13"/><circle cx="1234" cy="183.6" r="13"/><circle cx="1256.5" cy="154" r="13"/><circle cx="1280.2" cy="127.8" r="13"/><circle cx="1307.8" cy="100.8" r="13"/><circle cx="1334.5" cy="89.5" r="13"/><rect x="714.15" y="754.85" width="23.5" height="23.5"/><rect x="741.75" y="734.75" width="23.5" height="23.5"/><rect x="765.25" y="625.15" width="23.5" height="23.5"/><rect x="791.25" y="424.55" width="23.5" height="23.5"/><rect x="816.05" y="225.25" width="23.5" height="23.5"/><rect x="842.85" y="89.55" width="23.5" height="23.5"/><rect x="865.95" y="77.65" width="23.5" height="23.5"/></g>
<rect x="1324.1" y="581.5" width="455.2" height="232.6" fill="#fff" stroke="#444" stroke-width="1.6"/>
<g fill="#000"><rect x="1384.25" y="605.35" width="23.5" height="23.5"/><circle cx="1396" cy="670.8" r="13"/><path d="M1397.1 707.27L1413.1 734.77L1381.1 734.77Z"/></g>
<path d="M1348.5 779.3H1445" stroke="#000" stroke-width="6.5" stroke-linecap="round"/>
<text x="1456.3" y="632" style="font-family:'Liberation Sans',Arial,sans-serif;font-size:44px" fill="#000">NanoCrystal</text>
<text x="1445.05" y="685.8" style="font-family:'Liberation Sans',Arial,sans-serif;font-size:44px" fill="#000">Jet-Milled</text>
<text x="1457.1" y="739.8" style="font-family:'Liberation Sans',Arial,sans-serif;font-size:44px" fill="#000">Hammer-Milled</text>
<text x="1458.5" y="793.4" style="font-family:'Liberation Sans',Arial,sans-serif;font-size:44px" fill="#000">fitted curves</text>
<text x="1171.93" y="1151.5" style="font-family:'Liberation Serif',serif;font-size:80px" textLength="89.73" lengthAdjust="spacingAndGlyphs">(<tspan style="font-weight:bold">a</tspan>)</text>
<defs><filter id="soft" x="-2%" y="-2%" width="104%" height="104%"><feGaussianBlur stdDeviation="0.85"/></filter></defs>
<g id="pb" filter="url(#soft)"><path d="M121.2 2102H136.7M121.2 1942.8H136.7M121.2 1783.6H136.7M121.2 1624.4H136.7M121.2 1465.2H136.7M128.7 2022.4H136.7M128.7 1863.2H136.7M128.7 1704H136.7M128.7 1544.8H136.7M128.7 1385.6H136.7M136.7 1385.6V2102" stroke="#1a1a1a" stroke-width="3.7" fill="none"/><rect x="180.6" y="1701.4" width="51.8" height="400.6" fill="#7f7f7f" stroke="#1a1a1a" stroke-width="3.2"/><rect x="252.1" y="1675.6" width="34.3" height="426.4" fill="#fff" stroke="#1a1a1a" stroke-width="2.8"/><rect x="308.7" y="1597.9" width="51.7" height="504.1" fill="#7f7f7f" stroke="#1a1a1a" stroke-width="3.2"/><rect x="380.2" y="1715.8" width="33.8" height="386.2" fill="#fff" stroke="#1a1a1a" stroke-width="2.8"/><rect x="500.8" y="2006.6" width="51.2" height="95.4" fill="#7f7f7f" stroke="#1a1a1a" stroke-width="3.2"/><rect x="571.5" y="2021.8" width="34.7" height="80.2" fill="#fff" stroke="#1a1a1a" stroke-width="2.8"/><rect x="628.7" y="1899.7" width="50.9" height="202.3" fill="#7f7f7f" stroke="#1a1a1a" stroke-width="3.2"/><rect x="699.1" y="1872.4" width="34.7" height="229.6" fill="#fff" stroke="#1a1a1a" stroke-width="2.8"/><rect x="820.1" y="2061.2" width="51.7" height="40.8" fill="#7f7f7f" stroke="#1a1a1a" stroke-width="3.2"/><rect x="891.1" y="2057.4" width="34.5" height="44.6" fill="#fff" stroke="#1a1a1a" stroke-width="2.8"/><rect x="948.2" y="2009.5" width="51.7" height="92.5" fill="#7f7f7f" stroke="#1a1a1a" stroke-width="3.2"/><rect x="1019.4" y="2012" width="34.5" height="90" fill="#fff" stroke="#1a1a1a" stroke-width="2.8"/><path d="M206.8 1616.4V1821.7M195.1 1616.4H218.5M195.1 1821.7H218.5" stroke="#1a1a1a" stroke-width="3.2" fill="none"/><path d="M269 1581.5V1768.3M257.3 1581.5H280.7M257.3 1768.3H280.7" stroke="#1a1a1a" stroke-width="2.8" fill="none"/><path d="M334.2 1468.5V1802.3M322.5 1468.5H345.9M322.5 1802.3H345.9" stroke="#1a1a1a" stroke-width="3.2" fill="none"/><path d="M396.7 1625.9V1803.4M385 1625.9H408.4M385 1803.4H408.4" stroke="#1a1a1a" stroke-width="2.8" fill="none"/><path d="M525.8 1979.1V2045.5M514.1 1979.1H537.5M514.1 2045.5H537.5" stroke="#1a1a1a" stroke-width="3.2" fill="none"/><path d="M588.4 2003.5V2037.7M576.7 2003.5H600.1M576.7 2037.7H600.1" stroke="#1a1a1a" stroke-width="2.8" fill="none"/><path d="M654.1 1848.8V1974.3M642.4 1848.8H665.8M642.4 1974.3H665.8" stroke="#1a1a1a" stroke-width="3.2" fill="none"/><path d="M716.8 1846.6V1896.9M705.1 1846.6H728.5M705.1 1896.9H728.5" stroke="#1a1a1a" stroke-width="2.8" fill="none"/><path d="M846.3 2048.7V2077.5M834.6 2048.7H858M834.6 2077.5H858" stroke="#1a1a1a" stroke-width="3.2" fill="none"/><path d="M908.5 2043.5V2068.6M896.8 2043.5H920.2M896.8 2068.6H920.2" stroke="#1a1a1a" stroke-width="2.8" fill="none"/><path d="M973.8 1983.9V2043.5M962.1 1983.9H985.5M962.1 2043.5H985.5" stroke="#1a1a1a" stroke-width="3.2" fill="none"/><path d="M1036.5 1992.8V2028.3M1024.8 1992.8H1048.2M1024.8 2028.3H1048.2" stroke="#1a1a1a" stroke-width="2.8" fill="none"/><path d="M121.2 2102H1097.2" stroke="#1a1a1a" stroke-width="3.7" fill="none"/><text x="89.7" y="2113.9" style="font-family:'Liberation Sans',Arial,sans-serif;font-size:41.5px" fill="#000">0</text><text x="90.2" y="1954.7" style="font-family:'Liberation Sans',Arial,sans-serif;font-size:41.5px" fill="#000">2</text><text x="89.2" y="1795.5" style="font-family:'Liberation Sans',Arial,sans-serif;font-size:41.5px" fill="#000">4</text><text x="89.95" y="1636.3" style="font-family:'Liberation Sans',Arial,sans-serif;font-size:41.5px" fill="#000">6</text><text x="89.95" y="1477.1" style="font-family:'Liberation Sans',Arial,sans-serif;font-size:41.5px" fill="#000">8</text><path d="M1361.1 2102.8H1376.6M1361.1 1992.5H1376.6M1361.1 1882.2H1376.6M1361.1 1771.9H1376.6M1361.1 1661.6H1376.6M1361.1 1551.3H1376.6M1361.1 1441H1376.6M1368.6 2047.65H1376.6M1368.6 1937.35H1376.6M1368.6 1827.05H1376.6M1368.6 1716.75H1376.6M1368.6 1606.45H1376.6M1368.6 1496.15H1376.6M1368.6 1385.85H1376.6M1376.6 1385.85V2102.8" stroke="#1a1a1a" stroke-width="3.7" fill="none"/><rect x="1420.3" y="1715" width="51.3" height="387.8" fill="#7f7f7f" stroke="#1a1a1a" stroke-width="3.2"/><rect x="1491.4" y="1630" width="34.2" height="472.8" fill="#fff" stroke="#1a1a1a" stroke-width="2.8"/><rect x="1548" y="1609.7" width="51.7" height="493.1" fill="#7f7f7f" stroke="#1a1a1a" stroke-width="3.2"/><rect x="1619.5" y="1734.8" width="34.5" height="368" fill="#fff" stroke="#1a1a1a" stroke-width="2.8"/><rect x="1740.1" y="1981" width="51.7" height="121.8" fill="#7f7f7f" stroke="#1a1a1a" stroke-width="3.2"/><rect x="1811.5" y="2021.9" width="34" height="80.9" fill="#fff" stroke="#1a1a1a" stroke-width="2.8"/><rect x="1868.5" y="1868.6" width="51.3" height="234.2" fill="#7f7f7f" stroke="#1a1a1a" stroke-width="3.2"/><rect x="1939.1" y="1812.3" width="34.3" height="290.5" fill="#fff" stroke="#1a1a1a" stroke-width="2.8"/><rect x="2059.7" y="2040.8" width="51.5" height="62" fill="#7f7f7f" stroke="#1a1a1a" stroke-width="3.2"/><rect x="2130.9" y="2026.9" width="34" height="75.9" fill="#fff" stroke="#1a1a1a" stroke-width="2.8"/><rect x="2187.1" y="1975.2" width="51.7" height="127.6" fill="#7f7f7f" stroke="#1a1a1a" stroke-width="3.2"/><rect x="2258.9" y="1977.5" width="34.5" height="125.3" fill="#fff" stroke="#1a1a1a" stroke-width="2.8"/><path d="M1446.1 1598.9V1940.5M1434.4 1598.9H1457.8M1434.4 1940.5H1457.8" stroke="#1a1a1a" stroke-width="3.2" fill="none"/><path d="M1508.3 1468.3V1788.6M1496.6 1468.3H1520M1496.6 1788.6H1520" stroke="#1a1a1a" stroke-width="2.8" fill="none"/><path d="M1574.2 1462.4V1896.6M1562.5 1462.4H1585.9M1562.5 1896.6H1585.9" stroke="#1a1a1a" stroke-width="3.2" fill="none"/><path d="M1636.4 1611.7V1854.2M1624.7 1611.7H1648.1M1624.7 1854.2H1648.1" stroke="#1a1a1a" stroke-width="2.8" fill="none"/><path d="M1766.1 1943.3V2051.2M1754.4 1943.3H1777.8M1754.4 2051.2H1777.8" stroke="#1a1a1a" stroke-width="3.2" fill="none"/><path d="M1828.4 1997.8V2042.8M1816.7 1997.8H1840.1M1816.7 2042.8H1840.1" stroke="#1a1a1a" stroke-width="2.8" fill="none"/><path d="M1893.6 1796.8V2003.8M1881.9 1796.8H1905.3M1881.9 2003.8H1905.3" stroke="#1a1a1a" stroke-width="3.2" fill="none"/><path d="M1955.9 1695.1V1926.6M1944.2 1695.1H1967.6M1944.2 1926.6H1967.6" stroke="#1a1a1a" stroke-width="2.8" fill="none"/><path d="M2085.2 2020.8V2076M2073.5 2020.8H2096.9M2073.5 2076H2096.9" stroke="#1a1a1a" stroke-width="3.2" fill="none"/><path d="M2147.9 1997.9V2053.1M2136.2 1997.9H2159.6M2136.2 2053.1H2159.6" stroke="#1a1a1a" stroke-width="2.8" fill="none"/><path d="M2213.1 1934.8V2048.5M2201.4 1934.8H2224.8M2201.4 2048.5H2224.8" stroke="#1a1a1a" stroke-width="3.2" fill="none"/><path d="M2276.2 1926.4V2025.5M2264.5 1926.4H2287.9M2264.5 2025.5H2287.9" stroke="#1a1a1a" stroke-width="2.8" fill="none"/><path d="M1361.1 2102.8H2337" stroke="#1a1a1a" stroke-width="3.7" fill="none"/><text x="1284.75" y="2113.6" style="font-family:'Liberation Sans',Arial,sans-serif;font-size:38.7px" fill="#000">0 %</text><text x="1263.25" y="2003.3" style="font-family:'Liberation Sans',Arial,sans-serif;font-size:38.7px" fill="#000">20 %</text><text x="1263.25" y="1893" style="font-family:'Liberation Sans',Arial,sans-serif;font-size:38.7px" fill="#000">40 %</text><text x="1263.25" y="1782.7" style="font-family:'Liberation Sans',Arial,sans-serif;font-size:38.7px" fill="#000">60 %</text><text x="1263.25" y="1672.4" style="font-family:'Liberation Sans',Arial,sans-serif;font-size:38.7px" fill="#000">80 %</text><text x="1241.5" y="1562.1" style="font-family:'Liberation Sans',Arial,sans-serif;font-size:38.7px" fill="#000">100 %</text><text x="1241.5" y="1451.8" style="font-family:'Liberation Sans',Arial,sans-serif;font-size:38.7px" fill="#000">120 %</text><text transform="translate(63.4 2110.49) rotate(-90)" x="0" y="0" style="font-family:'Liberation Sans',Arial,sans-serif;font-size:48.5px" fill="#000" textLength="672.35" lengthAdjust="spacingAndGlyphs">Maximum Concentration [mg/L]</text><text transform="translate(1215 1920.98) rotate(-90)" x="0" y="0" style="font-family:'Liberation Sans',Arial,sans-serif;font-size:48.3px" fill="#000" textLength="290.56" lengthAdjust="spacingAndGlyphs">Bioavailability</text><text x="179.6" y="2149.5" style="font-family:'Liberation Sans',Arial,sans-serif;font-size:35.5px" fill="#000" textLength="96.29" lengthAdjust="spacingAndGlyphs">fasted</text><text x="325.7" y="2149.5" style="font-family:'Liberation Sans',Arial,sans-serif;font-size:35.5px" fill="#000" textLength="49.67" lengthAdjust="spacingAndGlyphs">fed</text><text x="512.8" y="2149.5" style="font-family:'Liberation Sans',Arial,sans-serif;font-size:35.5px" fill="#000" textLength="96.7" lengthAdjust="spacingAndGlyphs">fasted</text><text x="659.7" y="2149.5" style="font-family:'Liberation Sans',Arial,sans-serif;font-size:35.5px" fill="#000" textLength="49.14" lengthAdjust="spacingAndGlyphs">fed</text><text x="837" y="2149.5" style="font-family:'Liberation Sans',Arial,sans-serif;font-size:35.5px" fill="#000" textLength="96.7" lengthAdjust="spacingAndGlyphs">fasted</text><text x="983.8" y="2149.5" style="font-family:'Liberation Sans',Arial,sans-serif;font-size:35.5px" fill="#000" textLength="49.24" lengthAdjust="spacingAndGlyphs">fed</text><text x="1424.9" y="2150.5" style="font-family:'Liberation Sans',Arial,sans-serif;font-size:35.5px" fill="#000" textLength="96.19" lengthAdjust="spacingAndGlyphs">fasted</text><text x="1570.7" y="2150.5" style="font-family:'Liberation Sans',Arial,sans-serif;font-size:35.5px" fill="#000" textLength="49.35" lengthAdjust="spacingAndGlyphs">fed</text><text x="1758.9" y="2150.5" style="font-family:'Liberation Sans',Arial,sans-serif;font-size:35.5px" fill="#000" textLength="96.29" lengthAdjust="spacingAndGlyphs">fasted</text><text x="1904.9" y="2150.5" style="font-family:'Liberation Sans',Arial,sans-serif;font-size:35.5px" fill="#000" textLength="49.35" lengthAdjust="spacingAndGlyphs">fed</text><text x="2082.8" y="2150.5" style="font-family:'Liberation Sans',Arial,sans-serif;font-size:35.5px" fill="#000" textLength="96.81" lengthAdjust="spacingAndGlyphs">fasted</text><text x="2229.2" y="2150.5" style="font-family:'Liberation Sans',Arial,sans-serif;font-size:35.5px" fill="#000" textLength="49.14" lengthAdjust="spacingAndGlyphs">fed</text><text x="165.1" y="2225.6" style="font-family:'Liberation Sans',Arial,sans-serif;font-size:48.4px" fill="#000" textLength="266.74" lengthAdjust="spacingAndGlyphs">NanoCrystal</text><text x="511.95" y="2225.4" style="font-family:'Liberation Sans',Arial,sans-serif;font-size:48.4px" fill="#000" textLength="206.6" lengthAdjust="spacingAndGlyphs">Jet-Milled</text><text x="783.61" y="2225.4" style="font-family:'Liberation Sans',Arial,sans-serif;font-size:48.4px" fill="#000" textLength="327.83" lengthAdjust="spacingAndGlyphs">Hammer-Milled</text><text x="1403.28" y="2222.6" style="font-family:'Liberation Sans',Arial,sans-serif;font-size:48.4px" fill="#000" textLength="268.49" lengthAdjust="spacingAndGlyphs">NanoCrystal</text><text x="1751.56" y="2222.6" style="font-family:'Liberation Sans',Arial,sans-serif;font-size:48.4px" fill="#000" textLength="205.68" lengthAdjust="spacingAndGlyphs">Jet-Milled</text><text x="2022.4" y="2222.6" style="font-family:'Liberation Sans',Arial,sans-serif;font-size:48.4px" fill="#000" textLength="328.75" lengthAdjust="spacingAndGlyphs">Hammer-Milled</text><rect x="1590.9" y="1294.9" width="799.2" height="97.5" fill="#fff" stroke="#333" stroke-width="2.2"/><rect x="1631.6" y="1328" width="76.6" height="29.2" fill="#7f7f7f" stroke="#1a1a1a" stroke-width="2.4"/><rect x="1993.9" y="1328.4" width="77.5" height="28.8" fill="#fff" stroke="#1a1a1a" stroke-width="2.4"/><text x="1736.03" y="1354.6" style="font-family:'Liberation Sans',Arial,sans-serif;font-size:47.5px" fill="#000" textLength="218.03" lengthAdjust="spacingAndGlyphs">simulation</text><text x="2100.44" y="1354.6" style="font-family:'Liberation Sans',Arial,sans-serif;font-style:italic;font-size:47.5px" fill="#000" textLength="136.77" lengthAdjust="spacingAndGlyphs">in vivo</text><text x="2249.25" y="1354.6" style="font-family:'Liberation Sans',Arial,sans-serif;font-size:47.5px" fill="#000" textLength="113.89" lengthAdjust="spacingAndGlyphs">study</text></g>
<text x="1168.06" y="2398" style="font-family:'Liberation Serif',serif;font-size:80px" textLength="98.98" lengthAdjust="spacingAndGlyphs">(<tspan style="font-weight:bold">b</tspan>)</text></svg>
</body></html>
